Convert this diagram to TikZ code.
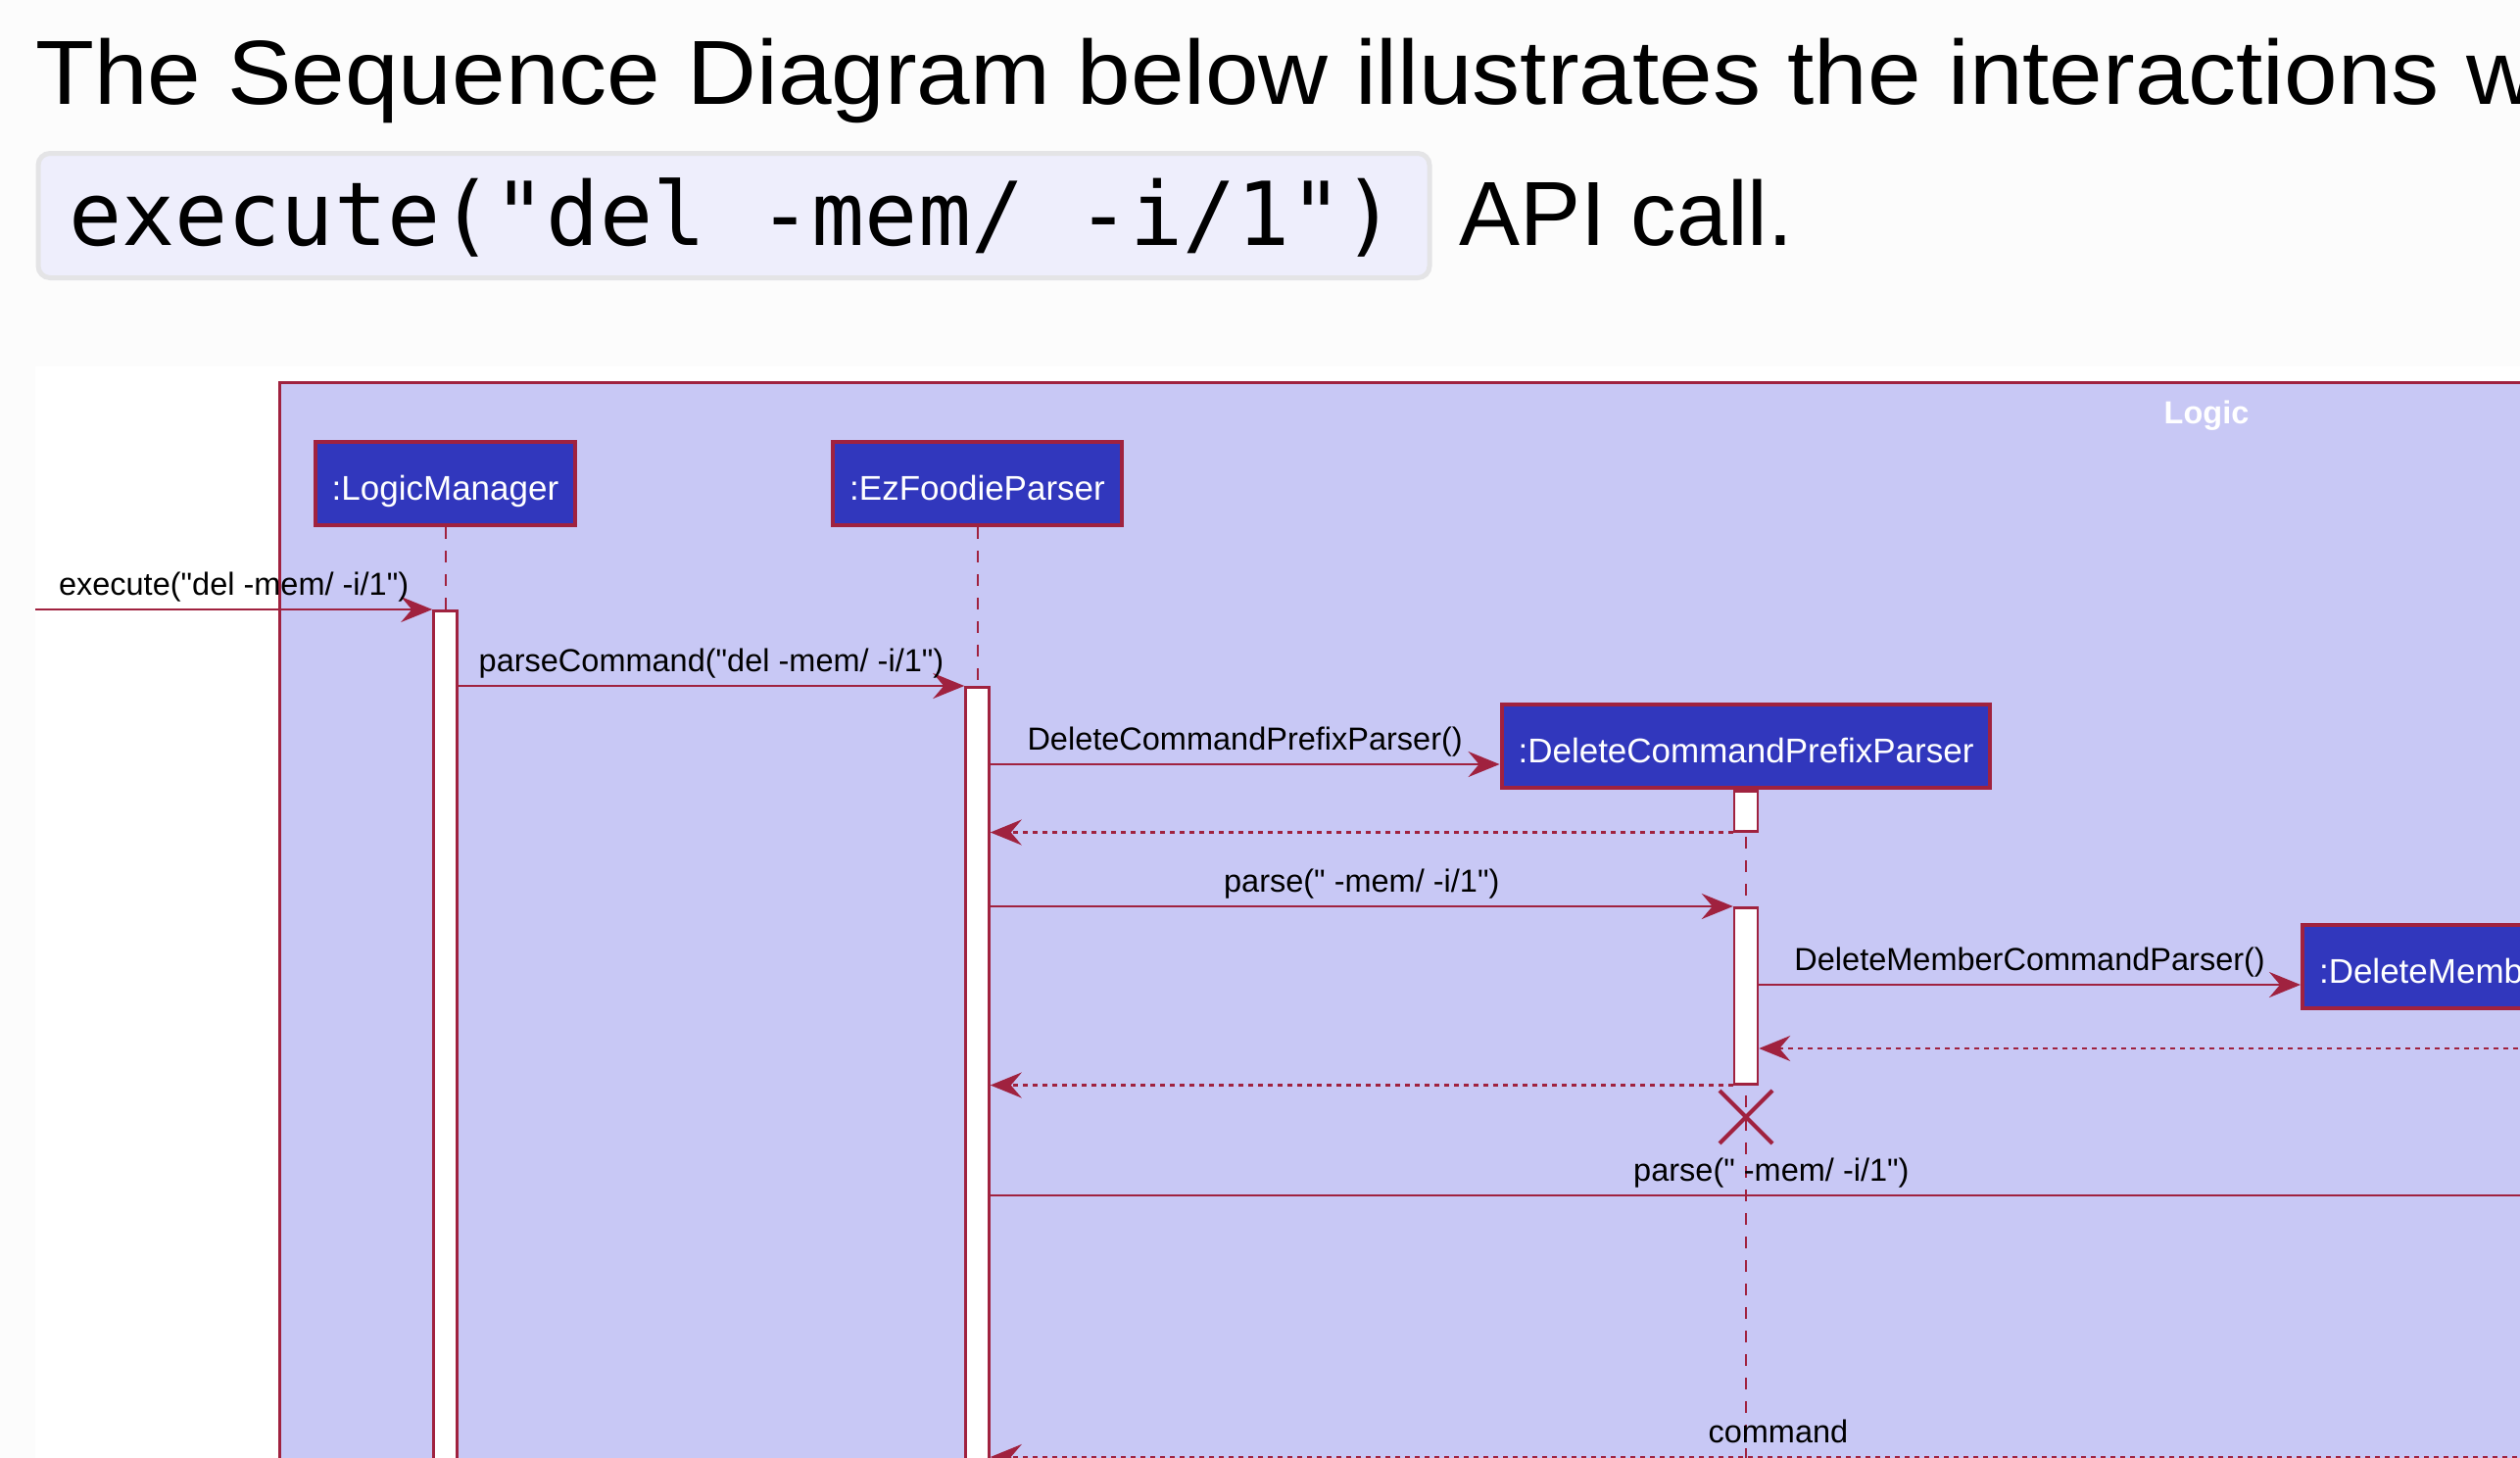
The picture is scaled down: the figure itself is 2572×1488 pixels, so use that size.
\documentclass[tikz,border=0pt]{standalone}
\usepackage{fontspec}
\setmainfont{Liberation Sans}[Ligatures=TeXOff]
\newfontfamily\headfont{Liberation Sans}[Ligatures=TeXOff, FakeStretch=1.055]
\newfontfamily\codefont{DejaVu Sans Mono}
\usetikzlibrary{arrows.meta, positioning, shapes.misc}
\definecolor{PageBg}{HTML}{FCFCFC}
\definecolor{CodeFill}{HTML}{EEEEFC}
\definecolor{CodeEdge}{HTML}{E4E4E6}
\definecolor{FrameFill}{HTML}{C8C8F5}
\definecolor{Maroon}{HTML}{A0223F}
\definecolor{BoxBlue}{HTML}{3137BD}
\tikzset{
  headtext/.style={anchor=base west, inner sep=0pt,
                   font=\fontsize{93}{110}\selectfont},
  part/.style={draw=Maroon, line width=4pt, fill=BoxBlue, text=white,
               font=\fontsize{35}{42}\selectfont, minimum height=85pt,
               text height=33pt, text depth=0pt,
               inner xsep=17pt, inner ysep=0pt},
  act/.style={draw=Maroon, line width=2.5pt, fill=white,
              minimum width=24pt, inner sep=0pt},
  life/.style={draw=Maroon, line width=2pt, dash pattern=on 12pt off 12pt},
  msg/.style={draw=Maroon, line width=2.5pt,
              -{Stealth[length=32pt, width=26pt, inset=11pt]}},
  ret/.style={msg, dash pattern=on 5pt off 5pt},
  msglab/.style={font=\fontsize{32.5}{38}\selectfont, text=black,
                 text depth=7pt, inner sep=0pt, above=6pt},
}

\begin{document}
\begin{tikzpicture}[x=1pt, y=-1pt]
    \useasboundingbox (0,0) rectangle (2572,1488);
    \clip (0,0) rectangle (2572,1488);
    \fill[PageBg] (0,0) rectangle (2572,1488);

    % heading above the diagram
    \node[headtext, font=\headfont\fontsize{93}{110}\selectfont] (title) at (36,106)
      {The Sequence Diagram below illustrates the interactions w};
    \node[draw=CodeEdge, line width=5pt, fill=CodeFill, rounded corners=12pt,
          minimum width=1420pt, minimum height=127pt] (codebox) at (749,220) {};
    \node[anchor=base west, inner sep=0pt,
          font=\codefont\fontsize{90}{100}\selectfont] (code) at (70,250)
      {execute("del -mem/ -i/1")};
    \node[headtext] (apicall) at (1489,250) {API call.};

    % diagram image and the Logic box
    \fill[white] (36,374) rectangle (2572,1488);
    \draw[Maroon, line width=3pt, fill=FrameFill] (285,390) rectangle (2700,1600);
    \node[anchor=base, text=white, font=\bfseries\fontsize{32.5}{38}\selectfont]
      (logic) at (2252,432) {Logic};

    % message rows
    \coordinate (bottom) at (0,1520);
    \coordinate (r1) at (0,622);
    \coordinate (r2) at (0,700);
    \coordinate (r3) at (0,780);
    \coordinate (r4) at (0,925);
    \coordinate (r5) at (0,1005);
    \coordinate (xrow) at (0,1140);

    \node[part] (lm) at (454.5,493.5) {:LogicManager};
    \node[part] (ezp) at (997.5,493.5) {:EzFoodieParser};
    \node[part] (dcpp) at (1782,761.5) {:DeleteCommandPrefixParser};
    \node[part, anchor=west] (dmcp) at (2348,986.5) {:DeleteMemb};

    \draw[life] (lm.south) -- (lm.south |- bottom);
    \draw[life] (ezp.south) -- (ezp.south |- bottom);
    \draw[life] (dcpp.south) -- (dcpp.south |- bottom);

    \node[act, anchor=north, minimum height=950pt] (lmAct) at (lm.south |- r1) {};
    \node[act, anchor=north, minimum height=900pt] (ezpAct) at (ezp.south |- r2) {};
    \node[act, anchor=north, minimum height=41pt] (dcppActA) at (dcpp.south) {};
    \node[act, anchor=north, minimum height=180pt] (dcppActB) at (dcpp.south |- r4) {};

    \coordinate (entry) at (36,622);
    \coordinate (dmcpRet) at (2580,1070);
    \coordinate (pastR1) at (2605,1220);
    \coordinate (pastR2) at (2619,1487);

    \draw[msg] (entry) -- (lmAct.north west)
      node[midway, msglab] {execute("del -mem/ -i/1")};
    \draw[msg] (lmAct.east |- ezpAct.north) -- (ezpAct.north west)
      node[midway, msglab] {parseCommand("del -mem/ -i/1")};
    \draw[msg] (ezpAct.east |- r3) -- (dcpp.west |- r3)
      node[midway, msglab] {DeleteCommandPrefixParser()};
    \draw[ret] (dcppActA.south west) -- (ezpAct.east |- dcppActA.south);
    \draw[msg] (ezpAct.east |- dcppActB.north) -- (dcppActB.north west)
      node[midway, msglab] {parse(" -mem/ -i/1")};
    \draw[msg] (dcppActB.east |- r5) -- (dmcp.west |- r5)
      node[midway, msglab] {DeleteMemberCommandParser()};
    \draw[ret] (dmcpRet) -- (dcppActB.east |- dmcpRet);
    \draw[ret] (dcppActB.south west) -- (ezpAct.east |- dcppActB.south);
    \node[draw=Maroon, cross out, line width=4pt, minimum size=50pt,
          inner sep=0pt] (dcppEnd) at (dcpp.south |- xrow) {};
    \draw[msg] (ezpAct.east |- pastR1) -- (pastR1)
      node[midway, msglab] {parse(" -mem/ -i/1")};
    \draw[ret] (pastR2) -- (ezpAct.east |- pastR2)
      node[midway, msglab] {command};
\end{tikzpicture}
\end{document}
